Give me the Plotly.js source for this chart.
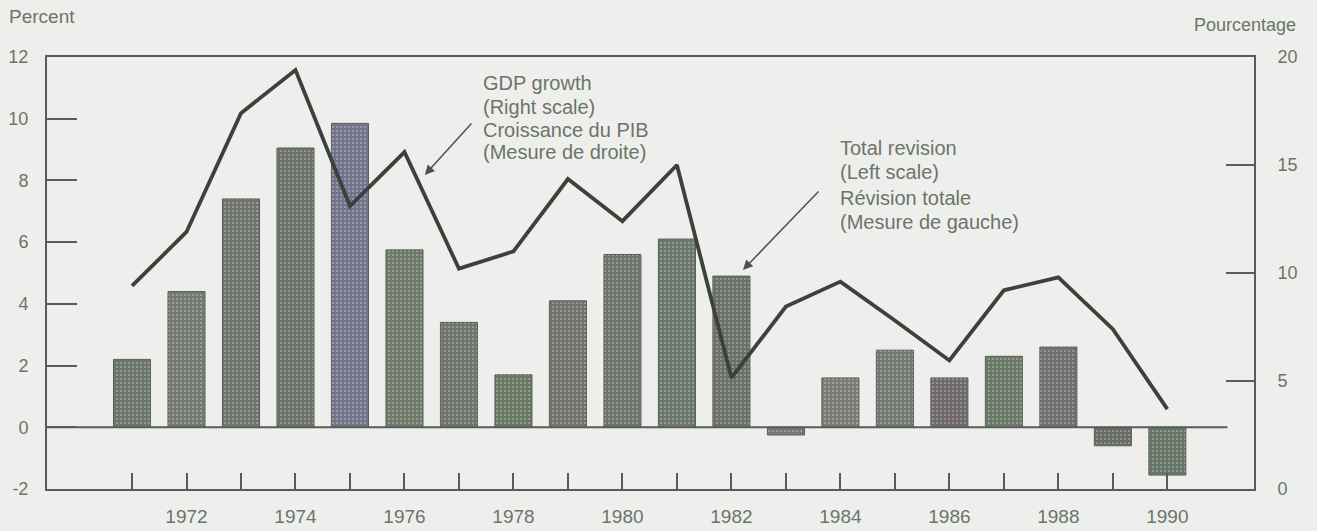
<!DOCTYPE html>
<html>
<head>
<meta charset="utf-8">
<script src="https://cdn.plot.ly/plotly-3.0.1.min.js"></script>
<style>
  html, body { margin: 0; padding: 0; background: #eeefec; }
  #chart { width: 1317px; height: 531px; }
</style>
</head>
<body>
<div id="chart"></div>
<script>
// ---- data ----
const years = [1971, 1972, 1973, 1974, 1975, 1976, 1977, 1978, 1979, 1980,
               1981, 1982, 1983, 1984, 1985, 1986, 1987, 1988, 1989, 1990];
// Total revision (left scale, percent)
const totalRevision = [2.2, 4.4, 7.4, 9.05, 9.85, 5.75, 3.4, 1.7, 4.1, 5.6,
                       6.1, 4.9, -0.25, 1.6, 2.5, 1.6, 2.3, 2.6, -0.6, -1.55];
// GDP growth (right scale, percent)
const gdpGrowth = [9.4, 11.9, 17.4, 19.4, 13.1, 15.6, 10.2, 11.0, 14.35, 12.4,
                   15.0, 5.15, 8.45, 9.6, 7.8, 5.95, 9.2, 9.8, 7.4, 3.7];
// x tick labels (every other year labelled)
const xTickLabels = ['', '1972', '', '1974', '', '1976', '', '1978', '', '1980',
                     '', '1982', '', '1984', '', '1986', '', '1988', '', '1990'];
const leftTicks = [-2, 0, 2, 4, 6, 8, 10, 12];
const leftTickLabels = ['-2', '0', '2', '4', '6', '8', '10', '12'];
const rightTicks = [0, 5, 10, 15, 20];

// ---- styles ----
const barColors = ['#6c756a', '#737972', '#70756f', '#6c716b', '#73748a', '#6f7a6b',
                   '#70746e', '#6a7965', '#71746f', '#6f736d', '#6c786b', '#6c706b',
                   '#757974', '#797d76', '#747973', '#6f6a69', '#6b7968', '#707073',
                   '#686c67', '#687668'];
const textColor = '#6a756a';
const axisColor = '#575d57';
const font = 'Liberation Sans, Arial, Helvetica, sans-serif';

const bars = {
  type: 'bar',
  x: years,
  y: totalRevision,
  width: 0.68,
  yaxis: 'y',
  marker: {
    color: barColors,
    line: { color: '#5a6059', width: 1 },
    pattern: { shape: '.', fillmode: 'overlay', fgcolor: '#c9cdc5', fgopacity: 0.5, size: 4, solidity: 0.15 }
  },
  hoverinfo: 'x+y',
  showlegend: false
};

const line = {
  type: 'scatter',
  mode: 'lines',
  x: years,
  y: gdpGrowth,
  yaxis: 'y2',
  line: { color: '#3b413b', width: 3.8 },
  showlegend: false
};

const layout = {
  width: 1317,
  height: 531,
  paper_bgcolor: '#eeefec',
  plot_bgcolor: '#eeefec',
  margin: { l: 47, r: 63, t: 57, b: 42 },
  font: { family: font, color: textColor, size: 17 },
  bargap: 0,
  xaxis: {
    range: [1969.44, 1991.59],
    tickvals: years,
    ticktext: xTickLabels,
    ticks: 'inside',
    ticklen: 16,
    tickwidth: 2,
    tickcolor: axisColor,
    showline: true,
    linecolor: axisColor,
    linewidth: 2,
    mirror: true,
    showgrid: false,
    zeroline: false,
    ticklabelstandoff: 9,
    tickfont: { size: 19, color: textColor }
  },
  yaxis: {
    range: [-2, 12],
    tickvals: leftTicks,
    ticktext: leftTickLabels,
    ticks: 'inside',
    ticklen: 30,
    tickwidth: 2,
    tickcolor: axisColor,
    showline: true,
    linecolor: axisColor,
    linewidth: 2,
    showgrid: false,
    zeroline: false,
    ticklabelstandoff: 13,
    tickfont: { size: 18, color: textColor }
  },
  yaxis2: {
    range: [0, 20],
    overlaying: 'y',
    side: 'right',
    tickvals: rightTicks,
    ticks: 'inside',
    ticklen: 28,
    tickwidth: 2,
    tickcolor: axisColor,
    showline: true,
    linecolor: axisColor,
    linewidth: 2,
    showgrid: false,
    zeroline: false,
    ticklabelstandoff: 18,
    tickfont: { size: 18, color: textColor }
  },
  shapes: [
    { type: 'line', xref: 'paper', yref: 'y', x0: 0, x1: 0.978, y0: 0, y1: 0,
      line: { color: axisColor, width: 2 } }
  ],
  annotations: [
    { text: 'Percent', xref: 'paper', yref: 'paper', x: -0.033, y: 1.093, xanchor: 'left', yanchor: 'middle',
      showarrow: false, font: { size: 19, color: textColor } },
    { text: 'Pourcentage', xref: 'paper', yref: 'paper', x: 1.0365, y: 1.074, xanchor: 'right', yanchor: 'middle',
      showarrow: false, font: { size: 18, color: textColor } },

    { text: 'GDP growth', xref: 'paper', yref: 'paper', x: 0.3596, y: 0.9398, xanchor: 'left', yanchor: 'middle',
      showarrow: false, font: { size: 20, color: textColor } },
    { text: '(Right scale)', xref: 'paper', yref: 'paper', x: 0.3596, y: 0.8843, xanchor: 'left', yanchor: 'middle',
      showarrow: false, font: { size: 20, color: textColor } },
    { text: 'Croissance du PIB', xref: 'paper', yref: 'paper', x: 0.3596, y: 0.831, xanchor: 'left', yanchor: 'middle',
      showarrow: false, font: { size: 20, color: textColor } },
    { text: '(Mesure de droite)', xref: 'paper', yref: 'paper', x: 0.3596, y: 0.780, xanchor: 'left', yanchor: 'middle',
      showarrow: false, font: { size: 20, color: textColor } },

    { text: 'Total revision', xref: 'paper', yref: 'paper', x: 0.6553, y: 0.7894, xanchor: 'left', yanchor: 'middle',
      showarrow: false, font: { size: 20, color: textColor } },
    { text: '(Left scale)', xref: 'paper', yref: 'paper', x: 0.6553, y: 0.7338, xanchor: 'left', yanchor: 'middle',
      showarrow: false, font: { size: 20, color: textColor } },
    { text: 'Révision totale', xref: 'paper', yref: 'paper', x: 0.6553, y: 0.6736, xanchor: 'left', yanchor: 'middle',
      showarrow: false, font: { size: 20, color: textColor } },
    { text: '(Mesure de gauche)', xref: 'paper', yref: 'paper', x: 0.6553, y: 0.618, xanchor: 'left', yanchor: 'middle',
      showarrow: false, font: { size: 20, color: textColor } },

    { text: '', xref: 'paper', yref: 'paper', x: 0.313, y: 0.727, ax: 48, ay: -53,
      showarrow: true, arrowhead: 2, arrowsize: 1.3, arrowwidth: 1.5, arrowcolor: '#4b524b' },
    { text: '', xref: 'paper', yref: 'paper', x: 0.5766, y: 0.507, ax: 77, ay: -80,
      showarrow: true, arrowhead: 2, arrowsize: 1.3, arrowwidth: 1.5, arrowcolor: '#4b524b' }
  ]
};

Plotly.newPlot('chart', [bars, line], layout, { displayModeBar: false, staticPlot: true });
</script>
</body>
</html>
